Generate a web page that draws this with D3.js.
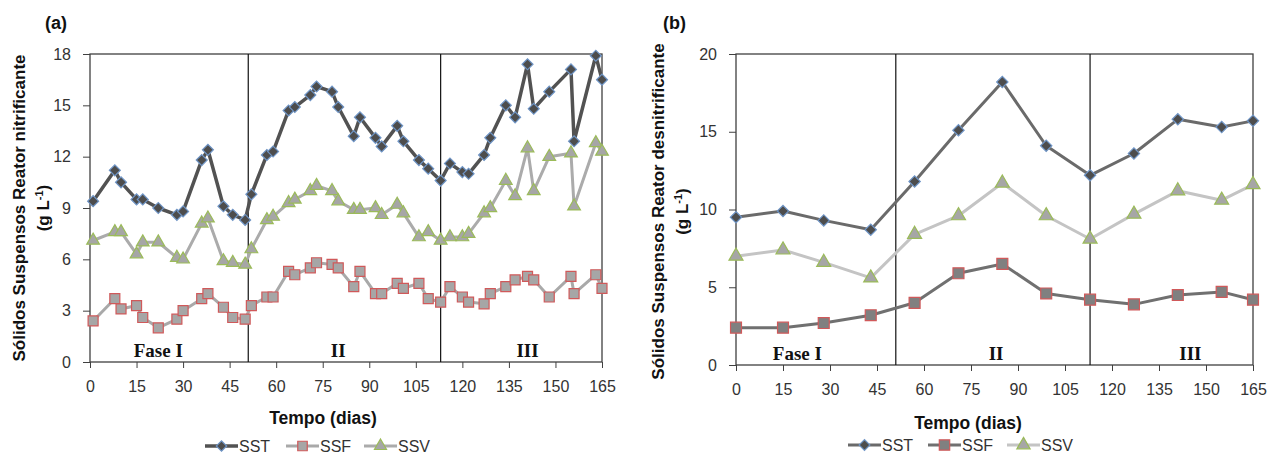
<!DOCTYPE html>
<html>
<head>
<meta charset="utf-8">
<script src="https://cdn.jsdelivr.net/npm/d3@7"></script>
<style>
  body { margin: 0; background: #fff; }
</style>
</head>
<body>
<script>
// --- data: panel (a) reator nitrificante
const daysA = [1, 8, 10, 15, 17, 22, 28, 30, 36, 38, 43, 46, 50,
    52, 57, 59, 64, 66, 71, 73, 78, 80, 85, 87, 92, 94, 99, 101, 106, 109, 113,
    116, 120, 122, 127, 129, 134, 137, 141, 143, 148, 155, 156, 163, 165];
const sstA = [9.4, 11.2, 10.5, 9.5, 9.5, 9.0, 8.6, 8.8, 11.8, 12.4, 9.1, 8.6, 8.3,
    9.8, 12.1, 12.3, 14.7, 14.9, 15.6, 16.1, 15.8, 14.9, 13.2, 14.3, 13.1, 12.6, 13.8, 12.9, 11.8, 11.3, 10.6,
    11.6, 11.1, 11.0, 12.1, 13.1, 15.0, 14.3, 17.4, 14.8, 15.8, 17.1, 12.9, 17.9, 16.5];
const ssfA = [2.4, 3.7, 3.1, 3.3, 2.6, 2.0, 2.5, 3.0, 3.7, 4.0, 3.2, 2.6, 2.5,
    3.3, 3.8, 3.8, 5.3, 5.1, 5.5, 5.8, 5.7, 5.5, 4.4, 5.3, 4.0, 4.0, 4.6, 4.3, 4.6, 3.7, 3.5,
    4.4, 3.8, 3.5, 3.4, 4.0, 4.4, 4.8, 5.0, 4.8, 3.8, 5.0, 4.0, 5.1, 4.3];
const ssvA = [7.1, 7.6, 7.6, 6.3, 7.0, 7.0, 6.1, 6.0, 8.1, 8.4, 5.9, 5.8, 5.7,
    6.6, 8.3, 8.5, 9.3, 9.5, 10.0, 10.3, 10.0, 9.4, 8.9, 8.9, 9.0, 8.6, 9.2, 8.7, 7.3, 7.6, 7.1,
    7.3, 7.3, 7.5, 8.7, 9.0, 10.6, 9.7, 12.5, 10.0, 12.0, 12.2, 9.1, 12.8, 12.3];

// --- data: panel (b) reator desnitrificante
const daysB = [0, 15, 28, 43, 57, 71, 85, 99, 113, 127, 141, 155, 165];
const sstB = [9.5, 9.9, 9.3, 8.7, 11.8, 15.1, 18.2, 14.1, 12.2, 13.6, 15.8, 15.3, 15.7];
const ssfB = [2.4, 2.4, 2.7, 3.2, 4.0, 5.9, 6.5, 4.6, 4.2, 3.9, 4.5, 4.7, 4.2];
const ssvB = [7.0, 7.4, 6.6, 5.6, 8.4, 9.6, 11.7, 9.6, 8.1, 9.7, 11.2, 10.6, 11.6];

// --- axes / labels
const xTicks = [0, 15, 30, 45, 60, 75, 90, 105, 120, 135, 150, 165];
const yTicksA = [0, 3, 6, 9, 12, 15, 18];
const yTicksB = [0, 5, 10, 15, 20];
const phaseBreaks = [51, 113];
const phaseNames = ['Fase I', 'II', 'III'];
const phaseLabelDaysA = [22, 80, 141];
const phaseLabelDaysB = [19.6, 83, 145];
const seriesNames = ['SST', 'SSF', 'SSV'];

const sans = '"Liberation Sans", Arial, sans-serif';
const svg = d3.select('body').append('svg')
    .attr('width', 1283)
    .attr('height', 457)
    .attr('font-family', sans);

function marker(kind, size) {
    if (kind === 'triangle') return d3.symbol().type(d3.symbolTriangle).size(size)();
    return d3.symbol().type(d3.symbolSquare).size(size)();
}

function drawPanel(p) {
    const x = d3.scaleLinear().domain([0, 165]).range([p.left, p.right]);
    const y = d3.scaleLinear().domain([0, p.yMax]).range([p.bottom, p.top]);
    const g = svg.append('g');

    // axes
    const yAxis = g.append('g')
        .attr('transform', `translate(${p.left},0)`)
        .call(d3.axisLeft(y).tickValues(p.yTicks).tickSize(7).tickPadding(12));
    const xAxis = g.append('g')
        .attr('transform', `translate(0,${p.bottom})`)
        .call(d3.axisBottom(x).tickValues(xTicks).tickSize(6).tickPadding(13));
    [yAxis, xAxis].forEach(a => {
        a.select('.domain').remove();
        a.selectAll('line').attr('stroke', '#404040');
        a.selectAll('text')
            .attr('font-size', 16)
            .attr('fill', '#333')
            .attr('font-family', sans);
    });

    // frame
    g.append('rect')
        .attr('x', p.left).attr('y', p.top)
        .attr('width', p.right - p.left).attr('height', p.bottom - p.top)
        .attr('fill', 'none').attr('stroke', '#404040').attr('stroke-width', 1.3);

    // phase separators
    g.selectAll('.phase')
        .data(phaseBreaks)
        .enter()
        .append('line')
        .attr('x1', d => x(d)).attr('x2', d => x(d))
        .attr('y1', p.top).attr('y2', p.bottom)
        .attr('stroke', '#111').attr('stroke-width', 1.2);
    g.selectAll('.phaseLabel')
        .data(phaseNames)
        .enter()
        .append('text')
        .attr('x', (d, i) => x(p.phaseLabelDays[i]))
        .attr('y', p.bottom - 5)
        .attr('text-anchor', 'middle')
        .attr('font-family', '"Liberation Serif", "DejaVu Serif", serif')
        .attr('font-weight', 'bold')
        .attr('font-size', 19)
        .attr('fill', '#111')
        .text(d => d);

    // series
    const line = d3.line().x(d => x(d[0])).y(d => y(d[1]));
    p.series.forEach(s => {
        const pts = p.days.map((d, i) => [d, s.values[i]]);
        g.append('path')
            .datum(pts)
            .attr('d', line)
            .attr('fill', 'none')
            .attr('stroke', s.line)
            .attr('stroke-width', s.width)
            .attr('stroke-linejoin', 'round');
    });
    p.series.forEach(s => {
        const pts = p.days.map((d, i) => [d, s.values[i]]);
        g.append('g')
            .selectAll('path')
            .data(pts)
            .enter()
            .append('path')
            .attr('d', marker(s.kind, s.size))
            .attr('transform', d => `translate(${x(d[0])},${y(d[1])})` + (s.kind === 'diamond' ? ' rotate(45)' : ''))
            .attr('fill', s.fill)
            .attr('stroke', s.stroke)
            .attr('stroke-width', 1.2);
    });

    // panel tag
    svg.append('text')
        .attr('x', p.tagX).attr('y', 29)
        .attr('font-weight', 'bold').attr('font-size', 18)
        .attr('fill', '#111')
        .text(p.tag);

    // y title
    const cy = (p.top + p.bottom) / 2 + p.titleShift;
    const yt = svg.append('text')
        .attr('transform', `translate(${p.titleX},${cy}) rotate(-90)`)
        .attr('text-anchor', 'middle')
        .attr('font-weight', 'bold')
        .attr('font-size', p.titleSize)
        .attr('fill', '#111');
    yt.append('tspan').attr('x', 0).attr('dy', 0).text(p.yTitle);
    const l2 = yt.append('tspan').attr('x', 0).attr('dy', 24).text('(g L');
    l2.append('tspan').attr('dy', -6).attr('font-size', 11).text('-1');
    l2.append('tspan').attr('dy', 6).text(')');

    // x title
    svg.append('text')
        .attr('x', p.xTitleX).attr('y', p.xTitleY)
        .attr('text-anchor', 'middle')
        .attr('font-weight', 'bold')
        .attr('font-size', 17.5)
        .attr('fill', '#111')
        .text('Tempo (dias)');

    // legend
    const leg = svg.append('g')
        .selectAll('g')
        .data(p.series)
        .enter()
        .append('g')
        .attr('transform', (d, i) => `translate(${p.legendX[i]},${p.legendY})`);
    leg.append('line')
        .attr('x1', 0).attr('x2', 33)
        .attr('stroke', d => d.line).attr('stroke-width', d => d.width);
    leg.append('path')
        .attr('d', d => marker(d.kind, d.size * 0.9))
        .attr('transform', d => 'translate(16.5,0)' + (d.kind === 'diamond' ? ' rotate(45)' : ''))
        .attr('fill', d => d.fill)
        .attr('stroke', d => d.stroke)
        .attr('stroke-width', 1.2);
    leg.append('text')
        .attr('x', 34).attr('y', 6)
        .attr('font-size', 16)
        .attr('fill', '#333')
        .text((d, i) => seriesNames[i]);
}

drawPanel({
    tag: '(a)', tagX: 45,
    left: 90, right: 602, top: 54, bottom: 362,
    yMax: 18, yTicks: yTicksA,
    days: daysA,
    phaseLabelDays: phaseLabelDaysA,
    yTitle: 'Sólidos Suspensos Reator nitrificante',
    titleX: 25, titleShift: 0, titleSize: 17,
    xTitleX: 323, xTitleY: 424,
    legendX: [205, 286, 364], legendY: 446,
    series: [
        { values: sstA, kind: 'diamond', size: 60, line: '#525252', width: 3.5, fill: '#4d4d4d', stroke: '#6f95c6' },
        { values: ssfA, kind: 'square', size: 100, line: '#a9a9a9', width: 3, fill: '#a6a6a6', stroke: '#d0595a' },
        { values: ssvA, kind: 'triangle', size: 70, line: '#ababab', width: 3, fill: '#a6a6a6', stroke: '#9bbb59' }
    ]
});

drawPanel({
    tag: '(b)', tagX: 663,
    left: 736, right: 1253, top: 54, bottom: 365,
    yMax: 20, yTicks: yTicksB,
    days: daysB,
    phaseLabelDays: phaseLabelDaysB,
    yTitle: 'Sólidos Suspensos Reator desnitrificante',
    titleX: 664, titleShift: 2, titleSize: 17,
    xTitleX: 968, xTitleY: 429,
    legendX: [848, 928, 1007], legendY: 445,
    series: [
        { values: sstB, kind: 'diamond', size: 64, line: '#6a6a6a', width: 3, fill: '#4d4d4d', stroke: '#6f95c6' },
        { values: ssfB, kind: 'square', size: 120, line: '#707070', width: 3, fill: '#808080', stroke: '#d0595a' },
        { values: ssvB, kind: 'triangle', size: 85, line: '#c4c4c4', width: 3, fill: '#a6a6a6', stroke: '#9bbb59' }
    ]
});
</script>
</body>
</html>
